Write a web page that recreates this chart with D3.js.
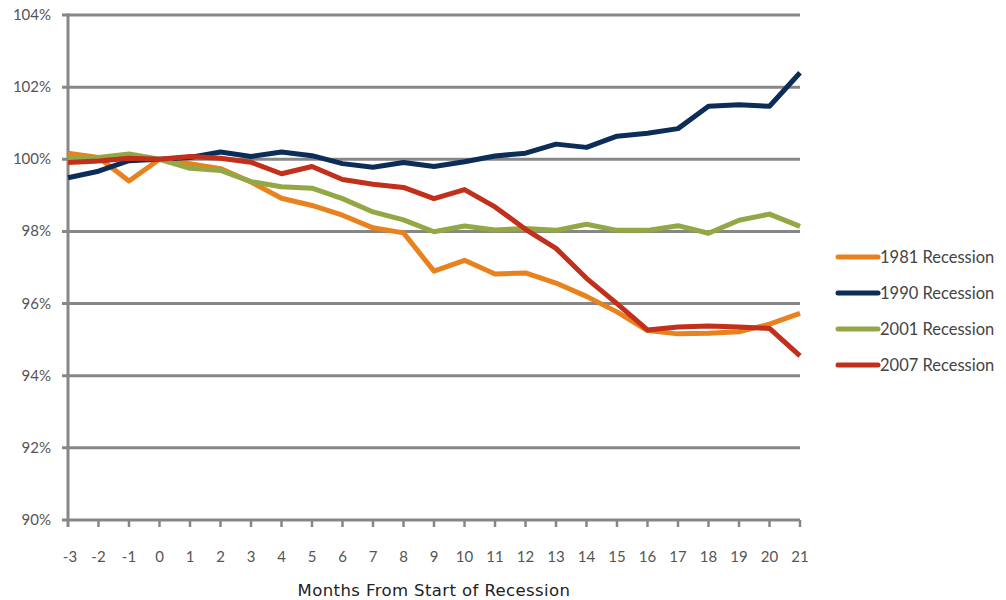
<!DOCTYPE html>
<html><head><meta charset="utf-8">
<script src="https://cdn.jsdelivr.net/npm/d3@7/dist/d3.min.js"></script>
<style>body{margin:0;background:#fff}svg{display:block}</style>
</head><body><svg id="c" width="1006" height="600"></svg>
<script>
const months = [-3,-2,-1,0,1,2,3,4,5,6,7,8,9,10,11,12,13,14,15,16,17,18,19,20,21];
const yTicks = [90,92,94,96,98,100,102,104];
const r1981 = [100.17,100.05,99.4,100,99.88,99.74,99.37,98.92,98.72,98.45,98.1,97.96,96.9,97.2,96.82,96.85,96.57,96.2,95.77,95.25,95.16,95.18,95.22,95.43,95.73];
const r1990 = [99.49,99.67,99.96,100,100.05,100.2,100.08,100.2,100.1,99.88,99.78,99.91,99.8,99.93,100.09,100.17,100.42,100.33,100.64,100.72,100.85,101.47,101.51,101.47,102.4];
const r2001 = [100.02,100.05,100.15,100,99.75,99.69,99.38,99.24,99.2,98.91,98.54,98.32,97.99,98.15,98.04,98.08,98.03,98.2,98.03,98.03,98.16,97.95,98.31,98.48,98.14];
const r2007 = [99.91,99.95,100.03,100,100.08,100.03,99.92,99.6,99.8,99.44,99.31,99.22,98.91,99.16,98.68,98.06,97.53,96.7,96.0,95.27,95.35,95.38,95.35,95.31,94.55];
const seriesNames = ["1981 Recession","1990 Recession","2001 Recession","2007 Recession"];
const seriesColors = ["#E8821E","#0B2D57","#93A845","#C22F1A"];
const seriesData = [r1981,r1990,r2001,r2007];

const svg = d3.select("#c");
const x = d3.scaleLinear().domain([-3,21]).range([68,800]);
const y = d3.scaleLinear().domain([90,104]).range([520,15]);
const grey = "#878787";
const font = "Lato, 'Open Sans', sans-serif";

svg.append("g").selectAll("line").data(yTicks).join("line")
  .attr("x1", 62).attr("x2", 800)
  .attr("y1", d=>y(d)).attr("y2", d=>y(d))
  .attr("stroke", grey).attr("stroke-width", 3);

svg.append("g").selectAll("text").data(yTicks).join("text")
  .attr("x", 51).attr("y", d=>y(d)+5)
  .attr("text-anchor","end").attr("font-family",font).attr("font-size",15)
  .attr("fill","#555").text(d=>d+"%");

svg.append("line").attr("x1",68).attr("x2",68).attr("y1",13.5).attr("y2",527)
  .attr("stroke",grey).attr("stroke-width",3);

svg.append("g").selectAll("line").data(months.slice(1)).join("line")
  .attr("x1",d=>x(d)).attr("x2",d=>x(d)).attr("y1",520).attr("y2",527)
  .attr("stroke",grey).attr("stroke-width",2.5);

svg.append("g").selectAll("text").data(months).join("text")
  .attr("x",d=>x(d)+(d===-3?2:0)).attr("y",562)
  .attr("text-anchor","middle").attr("font-family",font).attr("font-size",15)
  .attr("fill","#555").text(d=>d);

svg.append("text").attr("x",434).attr("y",596)
  .attr("text-anchor","middle").attr("font-family","'DejaVu Sans', sans-serif").attr("font-size",16.5)
  .attr("letter-spacing",0.4)
  .attr("fill","#222").text("Months From Start of Recession");

const line = d3.line().x((d,i)=>x(months[i])).y(d=>y(d));
svg.append("g").selectAll("path").data(seriesData).join("path")
  .attr("d", line).attr("fill","none")
  .attr("stroke",(d,i)=>seriesColors[i]).attr("stroke-width",5)
  .attr("stroke-linejoin","round");

const lg = svg.append("g").selectAll("g").data(seriesNames).join("g")
  .attr("transform",(d,i)=>`translate(0,${257+i*36})`);
lg.append("line").attr("x1",838).attr("x2",878).attr("y1",0).attr("y2",0)
  .attr("stroke",(d,i)=>seriesColors[i]).attr("stroke-width",5).attr("stroke-linecap","round");
lg.append("text").attr("x",880).attr("y",6).attr("font-family",font).attr("font-size",16.5)
  .attr("fill","#444").text(d=>d);
</script></body></html>
